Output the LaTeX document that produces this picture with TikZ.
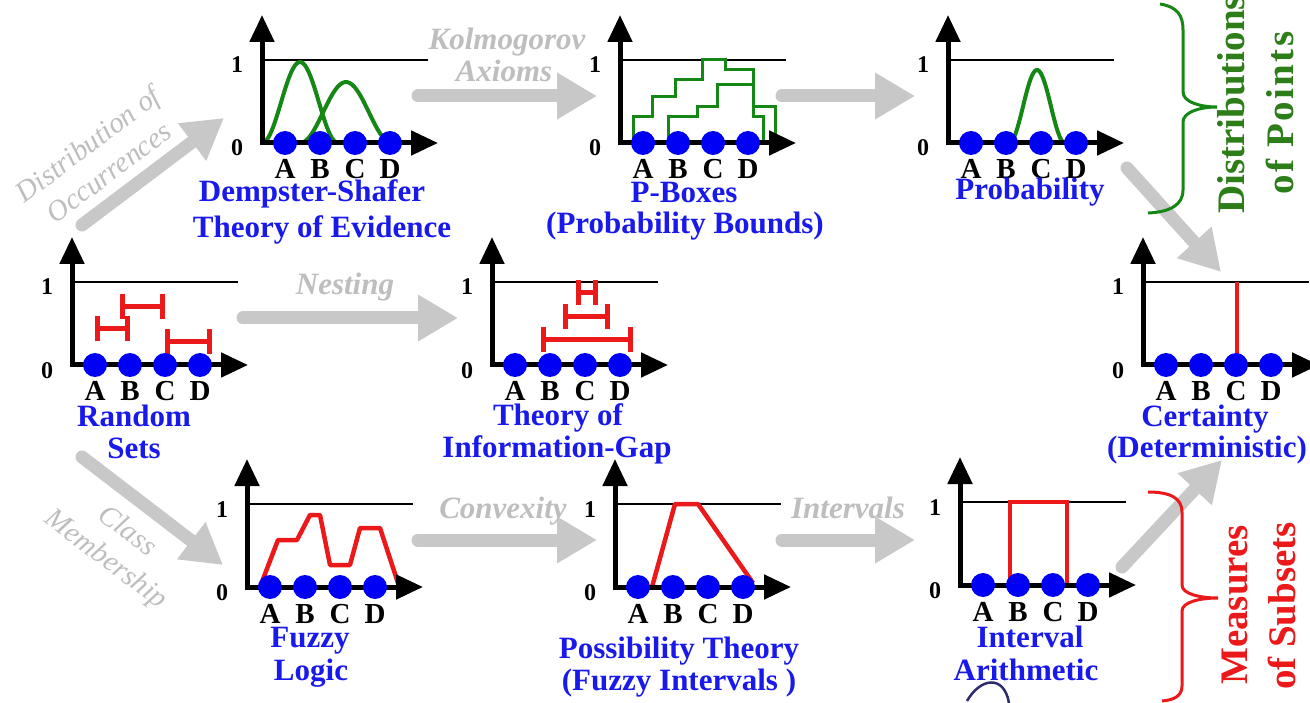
\documentclass[tikz,border=0pt]{standalone}
\usepackage{fontspec}
\setmainfont{Liberation Serif}
\usetikzlibrary{arrows.meta}

\definecolor{tblue}{RGB}{25,25,235}
\definecolor{cgreen}{RGB}{20,135,20}
\definecolor{tgreen}{RGB}{45,125,25}
\definecolor{cred}{RGB}{235,25,25}
\definecolor{agray}{RGB}{200,200,200}
\definecolor{lgray}{RGB}{190,190,190}
\definecolor{dotblue}{RGB}{0,0,245}
\definecolor{navyc}{RGB}{45,45,110}

\tikzset{
 axisline/.style={line width=5pt, black, line join=miter, {Triangle[length=27pt,width=24pt]}-{Triangle[length=27pt,width=24pt]}},
 oneline/.style={line width=2.5pt, black},
 bdot/.style={circle, fill=dotblue, minimum size=24pt, inner sep=0pt},
 lettr/.style={font=\bfseries\fontsize{29}{29}\selectfont, anchor=base, inner sep=0pt},
 digit/.style={font=\bfseries\fontsize{24}{24}\selectfont, anchor=base, inner sep=0pt},
 ttl/.style={font=\bfseries\fontsize{31}{31}\selectfont, text=tblue, anchor=base, inner sep=0pt},
 glabel/.style={font=\bfseries\itshape\fontsize{31}{31}\selectfont, text=lgray, anchor=base, inner sep=0pt},
 rlabel/.style={font=\itshape\fontsize{29}{35}\selectfont, text=lgray, align=center, inner sep=0pt},
 garrow/.style={draw=agray, line width=13pt, line cap=round, -{Triangle[length=40pt,width=44pt]}},
 gcurve/.style={draw=cgreen, line width=4pt},
 pbox/.style={draw=cgreen, line width=3pt},
 rcurve/.style={draw=cred, line width=4.5pt, line join=round},
 rbar/.style={draw=cred, line width=5pt, {Bar[width=25pt]}-{Bar[width=25pt]}},
 bracetext/.style={font=\bfseries\fontsize{39}{39}\selectfont, rotate=90, inner sep=0pt},
 bracepath/.style={line width=3pt},
}

% #1 name, #2 x, #3 y of the axes' corner, #4 content of the plot
\newcommand\AxPanel[4]{%
 \begin{scope}[shift={(#2,#3)}]
  \coordinate (#1-o) at (0,0);
  \coordinate (#1-ytip) at (0,-128);
  \coordinate (#1-xtip) at (176,0);
  \coordinate (#1-l0) at (0,-83);
  \coordinate (#1-l1) at (166,-83);
  \draw[oneline] (#1-l0) -- (#1-l1);
  #4
  \draw[axisline] (#1-ytip) -- (#1-o) -- (#1-xtip);
  \foreach \n/\dx in {A/23,B/58,C/93,D/128}{
    \node[bdot] (#1-d\n) at (\dx,0) {};
    \node[lettr] (#1-\n) at (\dx,36) {\n};
  }
  \node[digit] (#1-zero) at (-25,13) {0};
  \node[digit] (#1-one) at (-25,-70) {1};
 \end{scope}}

\begin{document}
\begin{tikzpicture}[x=1pt,y=-1pt]
\fill[white] (0,0) rectangle (1310,703);
\useasboundingbox (0,0) rectangle (1310,703);

% ---------- panels ----------
\AxPanel{ds}{262}{143}{
 \draw[gcurve] plot[domain=0:76,samples=40] (\x,{-81*(1+cos(180*(\x-38)/38))/2});
 \draw[gcurve] plot[domain=38:130,samples=40] (\x,{-61*(1+cos(180*(\x-84)/46))/2});
}
\AxPanel{pb}{620}{143}{
 \draw[pbox] (13,0) -- (13,-26) -- (32,-26) -- (32,-46) -- (55,-46) -- (55,-63) -- (82,-63) -- (82,-83) -- (105,-83) -- (105,-73) -- (133,-73) -- (133,-36) -- (155,-36) -- (155,0);
 \draw[pbox] (48,0) -- (48,-26) -- (77,-26) -- (77,-36) -- (97,-36) -- (97,-58) -- (133,-58) -- (133,-26) -- (143,-26) -- (143,0);
}
\AxPanel{pr}{948}{143}{
 \draw[gcurve] plot[domain=61:117,samples=40] (\x,{-73*(1+cos(180*(\x-89)/28))/2});
}
\AxPanel{rs}{72}{365}{
 \draw[rbar] (23,-36) -- (58,-36);
 \draw[rbar] (48,-58) -- (93,-58);
 \draw[rbar] (93,-23) -- (140,-23);
}
\AxPanel{ig}{492}{365}{
 \draw[rbar] (84,-72) -- (106,-72);
 \draw[rbar] (71,-48) -- (118,-48);
 \draw[rbar] (49,-25) -- (141,-25);
}
\AxPanel{ce}{1143}{365}{
 \draw[draw=cred, line width=3.5pt] (94,-83) -- (94,0);
}
\AxPanel{fz}{247}{587}{
 \draw[rcurve] (13,0) -- (31,-47) -- (50,-47) -- (63,-72) -- (73,-72) -- (83,-22) -- (103,-22) -- (113,-59) -- (133,-59) -- (151,-4);
}
\AxPanel{ps}{615}{587}{
 \draw[rcurve] (37,0) -- (60,-83) -- (83,-83) -- (138,-4);
}
\AxPanel{ia}{960}{585}{
 \draw[draw=cred, line width=4pt] (50,0) -- (50,-83) -- (107,-83) -- (107,0);
}

% ---------- titles ----------
\node[ttl] (ds-t1) at (312,202) {Dempster-Shafer};
\node[ttl] (ds-t2) at (322,238) {Theory of Evidence};
\node[ttl] (pb-t1) at (684,203) {P-Boxes};
\node[ttl] (pb-t2) at (685,234) {(Probability Bounds)};
\node[ttl] (pr-t1) at (1030,200) {Probability};
\node[ttl] (rs-t1) at (134,427) {Random};
\node[ttl] (rs-t2) at (134,458) {Sets};
\node[ttl] (ig-t1) at (558,425) {Theory of};
\node[ttl] (ig-t2) at (557,457) {Information-Gap};
\node[ttl] (ce-t1) at (1205,427) {Certainty};
\node[ttl] (ce-t2) at (1207,457) {(Deterministic)};
\node[ttl] (fz-t1) at (310,647) {Fuzzy};
\node[ttl] (fz-t2) at (311,680) {Logic};
\node[ttl] (ps-t1) at (679,658) {Possibility Theory};
\node[ttl] (ps-t2) at (679,690) {(Fuzzy Intervals )};
\node[ttl] (ia-t1) at (1030,647) {Interval};
\node[ttl] (ia-t2) at (1026,680) {Arithmetic};

% ---------- grey arrows ----------
\coordinate (a1s) at (82,225);   \coordinate (a1e) at (224,118);
\coordinate (a2s) at (418,96);   \coordinate (a2e) at (597,96);
\coordinate (a3s) at (782,96);   \coordinate (a3e) at (915,96);
\coordinate (a4s) at (1127,168); \coordinate (a4e) at (1221,272);
\coordinate (a5s) at (243,318);  \coordinate (a5e) at (458,318);
\coordinate (a6s) at (82,457);   \coordinate (a6e) at (223,565);
\coordinate (a7s) at (418,540);  \coordinate (a7e) at (597,540);
\coordinate (a8s) at (782,540);  \coordinate (a8e) at (915,540);
\coordinate (a9s) at (1122,567); \coordinate (a9e) at (1222,460);
\foreach \k in {1,...,9}{\draw[garrow] (a\k s) -- (a\k e);}

% ---------- grey labels ----------
\node[glabel] (kol1) at (507,50) {Kolmogorov};
\node[glabel] (kol2) at (504,82) {Axioms};
\node[glabel] (nest) at (345,295) {Nesting};
\node[glabel] (conv) at (503,518) {Convexity};
\node[glabel] (intv) at (848,518) {Intervals};
\node[rlabel, rotate=37] (occ) at (98,158) {Distribution of\\Occurrences};
\node[rlabel, rotate=-37] (cls) at (116,546) {Class\\Membership};

% ---------- braces ----------
\draw[cgreen, bracepath] (1160,4) .. controls (1178,7) and (1183,16) .. (1183,30) -- (1183,92) .. controls (1183,102) and (1200,107) .. (1217,107) .. controls (1200,107) and (1183,112) .. (1183,122) -- (1183,190) .. controls (1183,205) and (1170,212) .. (1148,213);
\draw[cred, bracepath] (1148,492) .. controls (1170,492) and (1182,498) .. (1182,512) -- (1182,585) .. controls (1182,594) and (1200,598) .. (1218,598) .. controls (1200,598) and (1182,602) .. (1182,611) -- (1182,686) .. controls (1182,696) and (1174,700) .. (1162,701);

\node[bracetext, text=tgreen, anchor=west] (dp1) at (1231,214) {Distributions};
\node[bracetext, text=tgreen] (dp2) at (1280,113) {\addfontfeature{LetterSpace=6}of Points};
\node[bracetext, text=cred] (ms1) at (1235,605) {Measures};
\node[bracetext, text=cred] (ms2) at (1282,606) {of Subsets};

% ---------- stray stroke ----------
\draw[navyc, line width=2.5pt] (967,701) .. controls (980,678) and (1004,674) .. (1009,703);
\end{tikzpicture}
\end{document}
